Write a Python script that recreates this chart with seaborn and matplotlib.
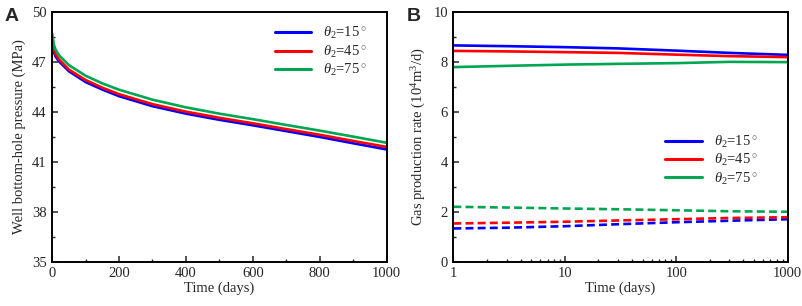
import numpy as np
import pandas as pd
import matplotlib.pyplot as plt
import seaborn as sns
from matplotlib.ticker import MultipleLocator, LogLocator, NullFormatter, FixedLocator

# Panel A: well bottom-hole pressure (MPa) vs time (days)
time_a = [0, 5, 10, 20, 50, 100, 150, 200, 300, 400, 500, 600, 700, 800, 900, 1000]
p_15 = [48.1, 47.6, 47.35, 47.05, 46.45, 45.8, 45.35, 44.95, 44.35, 43.9, 43.53, 43.2, 42.85, 42.5, 42.12, 41.75]
p_45 = [48.35, 47.75, 47.48, 47.17, 46.55, 45.92, 45.46, 45.07, 44.47, 44.02, 43.65, 43.32, 42.97, 42.63, 42.26, 41.9]
p_75 = [48.7, 48.05, 47.75, 47.42, 46.82, 46.18, 45.72, 45.34, 44.74, 44.28, 43.9, 43.57, 43.22, 42.88, 42.52, 42.15]
ticks_a = [35, 38, 41, 44, 47, 50]

# Panel B: gas production rate (10^4 m^3/d) vs time (log axis)
time_b = [1, 3, 10, 30, 100, 300, 1000]
q_main_15 = [8.67, 8.64, 8.6, 8.55, 8.46, 8.37, 8.29]
q_main_45 = [8.45, 8.43, 8.4, 8.37, 8.3, 8.24, 8.2]
q_main_75 = [7.8, 7.85, 7.9, 7.93, 7.96, 8.01, 8.0]
q_dash_15 = [1.33, 1.36, 1.42, 1.5, 1.58, 1.64, 1.7]
q_dash_45 = [1.53, 1.56, 1.6, 1.65, 1.7, 1.75, 1.78]
q_dash_75 = [2.2, 2.17, 2.13, 2.1, 2.06, 2.02, 2.0]

labels = [r'$\theta_2$=15$^\circ$', r'$\theta_2$=45$^\circ$', r'$\theta_2$=75$^\circ$']
colors = ['#0000ff', '#ff0000', '#00a651']

sns.set_style('ticks')
plt.rcParams['font.family'] = ['Liberation Serif', 'DejaVu Serif']
plt.rcParams['mathtext.fontset'] = 'custom'
plt.rcParams['mathtext.rm'] = 'Liberation Serif'
plt.rcParams['mathtext.it'] = 'Liberation Serif:italic'
plt.rcParams['font.size'] = 10.5

df_a = pd.DataFrame({
    'Time': time_a * 3,
    'Pressure': p_15 + p_45 + p_75,
    'Angle': [labels[0]] * len(time_a) + [labels[1]] * len(time_a) + [labels[2]] * len(time_a),
})

n = len(time_b)
df_b = pd.DataFrame({
    'Time': time_b * 6,
    'Rate': q_main_15 + q_main_45 + q_main_75 + q_dash_15 + q_dash_45 + q_dash_75,
    'Angle': ([labels[0]] * n + [labels[1]] * n + [labels[2]] * n) * 2,
    'Kind': ['main'] * (3 * n) + ['dash'] * (3 * n),
})

fig, (ax1, ax2) = plt.subplots(1, 2, figsize=(8.03, 3.06), dpi=100)
fig.subplots_adjust(left=0.065, right=0.981, top=0.96, bottom=0.145, wspace=0.2)

palette = dict(zip(labels, colors))

sns.lineplot(data=df_a, x='Time', y='Pressure', hue='Angle', palette=palette,
             linewidth=1.9, ax=ax1, legend=False)
sns.lineplot(data=df_b, x='Time', y='Rate', hue='Angle', style='Kind', palette=palette,
             style_order=['main', 'dash'], dashes={'main': '', 'dash': (3, 1.6)},
             linewidth=1.9, ax=ax2, legend=False)

# axes A
ax1.set_xlim(0, 1000)
ax1.set_ylim(35, 50)
ax1.xaxis.set_major_locator(MultipleLocator(200))
ax1.xaxis.set_minor_locator(MultipleLocator(100))
ax1.yaxis.set_major_locator(FixedLocator(ticks_a))
ax1.yaxis.set_minor_locator(FixedLocator([t + 1.5 for t in ticks_a[:-1]]))
ax1.set_xlabel('Time (days)', labelpad=1)
ax1.set_ylabel('Well bottom-hole pressure (MPa)', labelpad=4)

# axes B
ax2.set_xscale('log')
ax2.set_xlim(1, 1000)
ax2.set_ylim(0, 10)
ax2.xaxis.set_major_locator(FixedLocator([1, 10, 100, 1000]))
ax2.set_xticklabels(['1', '10', '100', '1000'])
ax2.xaxis.set_minor_locator(LogLocator(base=10, subs=np.arange(2, 10)))
ax2.xaxis.set_minor_formatter(NullFormatter())
ax2.yaxis.set_major_locator(MultipleLocator(2))
ax2.yaxis.set_minor_locator(MultipleLocator(1))
ax2.set_xlabel('Time (days)', labelpad=1)
ax2.set_ylabel(r'Gas production rate (10$^4$m$^3$/d)', labelpad=4)

for ax in (ax1, ax2):
    for s in ax.spines.values():
        s.set_linewidth(1.4)
        s.set_color('black')
    ax.tick_params(which='major', direction='in', length=4, width=1.1, labelsize=10.5, pad=4)
    ax.tick_params(which='minor', direction='in', length=2.5, width=1.0)

handles = [plt.Line2D([], [], color=c, lw=2.2) for c in colors]
ax1.legend(handles, labels, loc='upper left', bbox_to_anchor=(0.627, 1.0), frameon=False,
           handlelength=2.5, handletextpad=0.8, labelspacing=0.15, fontsize=10.5)
ax2.legend(handles, labels, loc='upper left', bbox_to_anchor=(0.595, 0.565), frameon=False,
           handlelength=2.5, handletextpad=0.8, labelspacing=0.15, fontsize=10.5)

fig.text(0.006, 0.93, 'A', fontsize=14, fontweight='bold', family='Liberation Sans')
fig.text(0.506, 0.93, 'B', fontsize=14, fontweight='bold', family='Liberation Sans')

plt.savefig('out.png', dpi=100)
